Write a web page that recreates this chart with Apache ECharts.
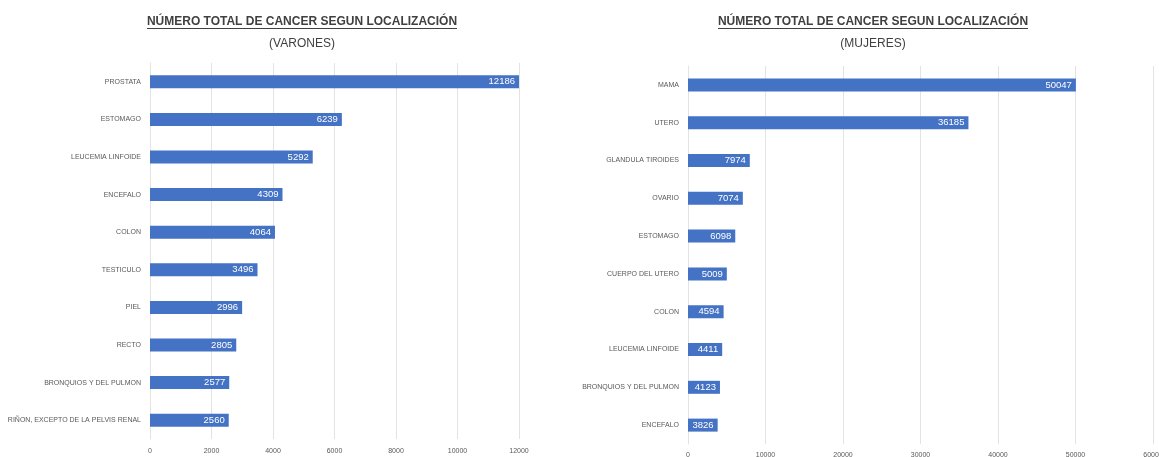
<!DOCTYPE html>
<html>
<head>
<meta charset="utf-8">
<script src="https://cdn.jsdelivr.net/npm/echarts@6/dist/echarts.min.js"></script>
<style>
html,body{margin:0;padding:0;background:#fff;}
#c{width:1159px;height:457px;}
</style>
</head>
<body>
<div id="c"></div>
<script>
const titleMain = "NÚMERO TOTAL DE CANCER SEGUN LOCALIZACIÓN";
const titleMen = "(VARONES)";
const titleWomen = "(MUJERES)";

const menCategories = ["PROSTATA","ESTOMAGO","LEUCEMIA LINFOIDE","ENCEFALO","COLON","TESTICULO","PIEL","RECTO","BRONQUIOS Y DEL PULMON","RIÑON, EXCEPTO DE LA PELVIS RENAL"];
const menValues = [12186,6239,5292,4309,4064,3496,2996,2805,2577,2560];
const menTicks = {min:0, max:12000, interval:2000};

const womenCategories = ["MAMA","UTERO","GLANDULA TIROIDES","OVARIO","ESTOMAGO","CUERPO DEL UTERO","COLON","LEUCEMIA LINFOIDE","BRONQUIOS Y DEL PULMON","ENCEFALO"];
const womenValues = [50047,36185,7974,7074,6098,5009,4594,4411,4123,3826];
const womenTicks = {min:0, max:60000, interval:10000};

const FONT = "'Liberation Sans',Arial,sans-serif";
const BLUE = "#4472C4";
const GRID = "#e3e3e3";
const LABEL = "#595959";

const chart = echarts.init(document.getElementById('c'));

function xAxisCfg(gi, t, margin){
  return {
    type:'value', gridIndex:gi, min:t.min, max:t.max, interval:t.interval,
    axisLine:{show:false}, axisTick:{show:false},
    splitLine:{show:true, lineStyle:{color:GRID, width:1}},
    axisLabel:{color:LABEL, fontSize:7, fontFamily:FONT, margin:margin,
      formatter:function(v){return String(v);}}
  };
}
function yAxisCfg(gi, cats){
  return {
    type:'category', gridIndex:gi, data:cats, inverse:true,
    axisLine:{show:true, lineStyle:{color:GRID}}, axisTick:{show:false},
    axisLabel:{color:LABEL, fontSize:7, fontFamily:FONT, margin:9}
  };
}
function seriesCfg(i, vals){
  return {
    type:'bar', xAxisIndex:i, yAxisIndex:i, data:vals, barWidth:13,
    itemStyle:{color:BLUE},
    label:{show:true, position:'insideRight', color:'#fff', fontSize:9.5, fontFamily:FONT, distance:4},
    silent:true, animation:false
  };
}

chart.setOption({
  animation:false,
  backgroundColor:'#fff',
  title:[
    {text:titleMain, left:297, top:11, textAlign:'center',
     textStyle:{fontFamily:FONT, fontSize:12, fontWeight:'bold', color:'#404040'}},
    {text:titleMen, left:297, top:33, textAlign:'center',
     textStyle:{fontFamily:FONT, fontSize:12, fontWeight:'normal', color:'#404040'}},
    {text:titleMain, left:868, top:11, textAlign:'center',
     textStyle:{fontFamily:FONT, fontSize:12, fontWeight:'bold', color:'#404040'}},
    {text:titleWomen, left:868, top:33, textAlign:'center',
     textStyle:{fontFamily:FONT, fontSize:12, fontWeight:'normal', color:'#404040'}}
  ],
  graphic:[
    {type:'line', shape:{x1:147, y1:28.5, x2:457, y2:28.5}, style:{stroke:'#404040', lineWidth:1}},
    {type:'line', shape:{x1:718, y1:28.5, x2:1028, y2:28.5}, style:{stroke:'#404040', lineWidth:1}}
  ],
  grid:[
    {left:150, right:640, top:63, bottom:18, outerBoundsMode:'none', containLabel:false},
    {left:688, right:6, top:66, bottom:13, outerBoundsMode:'none', containLabel:false}
  ],
  xAxis:[xAxisCfg(0, menTicks, 9), xAxisCfg(1, womenTicks, 8)],
  yAxis:[yAxisCfg(0, menCategories), yAxisCfg(1, womenCategories)],
  series:[seriesCfg(0, menValues), seriesCfg(1, womenValues)]
});
</script>
</body>
</html>
